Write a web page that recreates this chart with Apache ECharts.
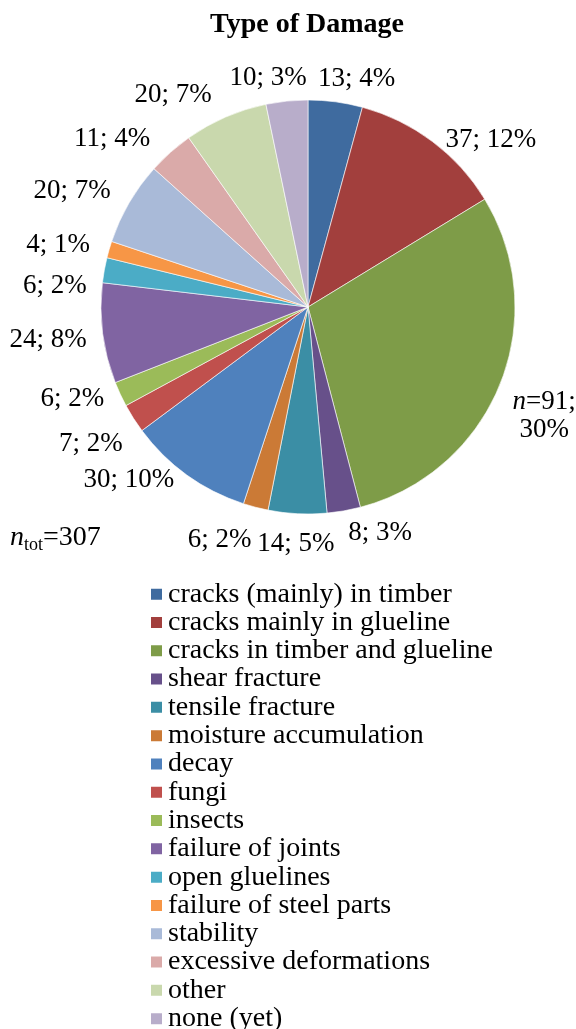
<!DOCTYPE html>
<html>
<head>
<meta charset="utf-8">
<script src="https://cdn.jsdelivr.net/npm/echarts@6/dist/echarts.min.js"></script>
<style>
  html, body { margin: 0; padding: 0; background: #fff; }
  #chart { width: 576px; height: 1029px; }
</style>
</head>
<body>
<div id="chart"></div>
<script>
const categories = [
  'cracks (mainly) in timber',
  'cracks mainly in glueline',
  'cracks in timber and glueline',
  'shear fracture',
  'tensile fracture',
  'moisture accumulation',
  'decay',
  'fungi',
  'insects',
  'failure of joints',
  'open gluelines',
  'failure of steel parts',
  'stability',
  'excessive deformations',
  'other',
  'none (yet)',
]
const counts = [13, 37, 91, 8, 14, 6, 30, 7, 6, 24, 6, 4, 20, 11, 20, 10]
const colors = [
  '#3f6b9f', '#a23f3d', '#7e9c48', '#67508a', '#3b8ea5', '#cb7a36',
  '#4f81bd', '#c0504d', '#9bbb59', '#8064a2', '#4bacc6', '#f79646',
  '#a9bad8', '#daaaa9', '#c9d8ad', '#b8adca',
]
const total = counts.reduce((a, b) => a + b, 0)

// mid angle of every slice (clockwise from 12 o'clock), used to push labels outward
const midAngles = []
let acc = 0
counts.forEach((v) => {
  midAngles.push(((acc + v / 2) / total) * 2 * Math.PI)
  acc += v
})

// extra label offsets (px) so labels sit where the spreadsheet's "best fit" put them
const labelNudge = [
  [-25, 5], [-4, 21], [2, 26], [-4, -6], [43, 2], [6, 6], [4, -18], [11, 11],
  [7, -7], [9, 3], [7, 21], [5, 3], [4, 2], [-2, 8], [-1, 3], [27, 5],
]

const serif = 'Liberation Serif'

const chart = echarts.init(document.getElementById('chart'))

const option = {
  color: colors,
  textStyle: { fontFamily: serif },
  title: {
    text: 'Type of Damage',
    left: 302,
    textAlign: 'center',
    top: 6,
    textStyle: { fontFamily: serif, fontSize: 28, fontWeight: 'bold', color: '#000' },
  },
  legend: {
    orient: 'vertical',
    left: 149,
    top: 580,
    height: 460,
    padding: 0,
    itemWidth: 13,
    itemHeight: 13,
    itemGap: 0,
    icon: 'rect',
    textStyle: { fontFamily: serif, fontSize: 28, lineHeight: 28.3, color: '#000' },
    data: categories,
  },
  graphic: [
    {
      type: 'text',
      left: 10,
      top: 524,
      style: {
        text: '{i|n}{sub|tot}{t|=307}',
        rich: {
          i: { fontFamily: serif, fontSize: 28, fontStyle: 'italic', fill: '#000' },
          sub: { fontFamily: serif, fontSize: 18, fill: '#000', padding: [14, 0, 0, 0] },
          t: { fontFamily: serif, fontSize: 28, fill: '#000' },
        },
      },
    },
  ],
  series: [
    {
      type: 'pie',
      center: [308, 307],
      radius: 207,
      startAngle: 90,
      clockwise: true,
      avoidLabelOverlap: false,
      itemStyle: { borderColor: '#fff', borderWidth: 0.6 },
      label: {
        position: 'outside',
        fontFamily: serif,
        fontSize: 27,
        lineHeight: 28,
        color: '#000',
        overflow: 'none',
        formatter: (p) => {
          const pct = Math.round((p.value / total) * 100)
          if (p.dataIndex === 2) return '{i|n}=' + p.value + ';\n{c|' + pct + '%}'
          return p.value + '; ' + pct + '%'
        },
        rich: {
          i: { fontFamily: serif, fontSize: 27, fontStyle: 'italic', color: '#000' },
          c: { fontFamily: serif, fontSize: 27, color: '#000', align: 'center' },
        },
      },
      labelLine: { show: false, length: 14, length2: 0 },
      labelLayout: (p) => {
        const a = midAngles[p.dataIndex]
        const n = labelNudge[p.dataIndex]
        return { dx: 6 * Math.sin(a) + n[0], dy: -14 * Math.cos(a) + n[1] }
      },
      emphasis: { disabled: true },
      data: categories.map((name, i) => {
        const item = { name: name, value: counts[i] }
        if (i === 2) item.labelLine = { length: 0 }
        return item
      }),
    },
  ],
}

chart.setOption(option)
</script>
</body>
</html>
